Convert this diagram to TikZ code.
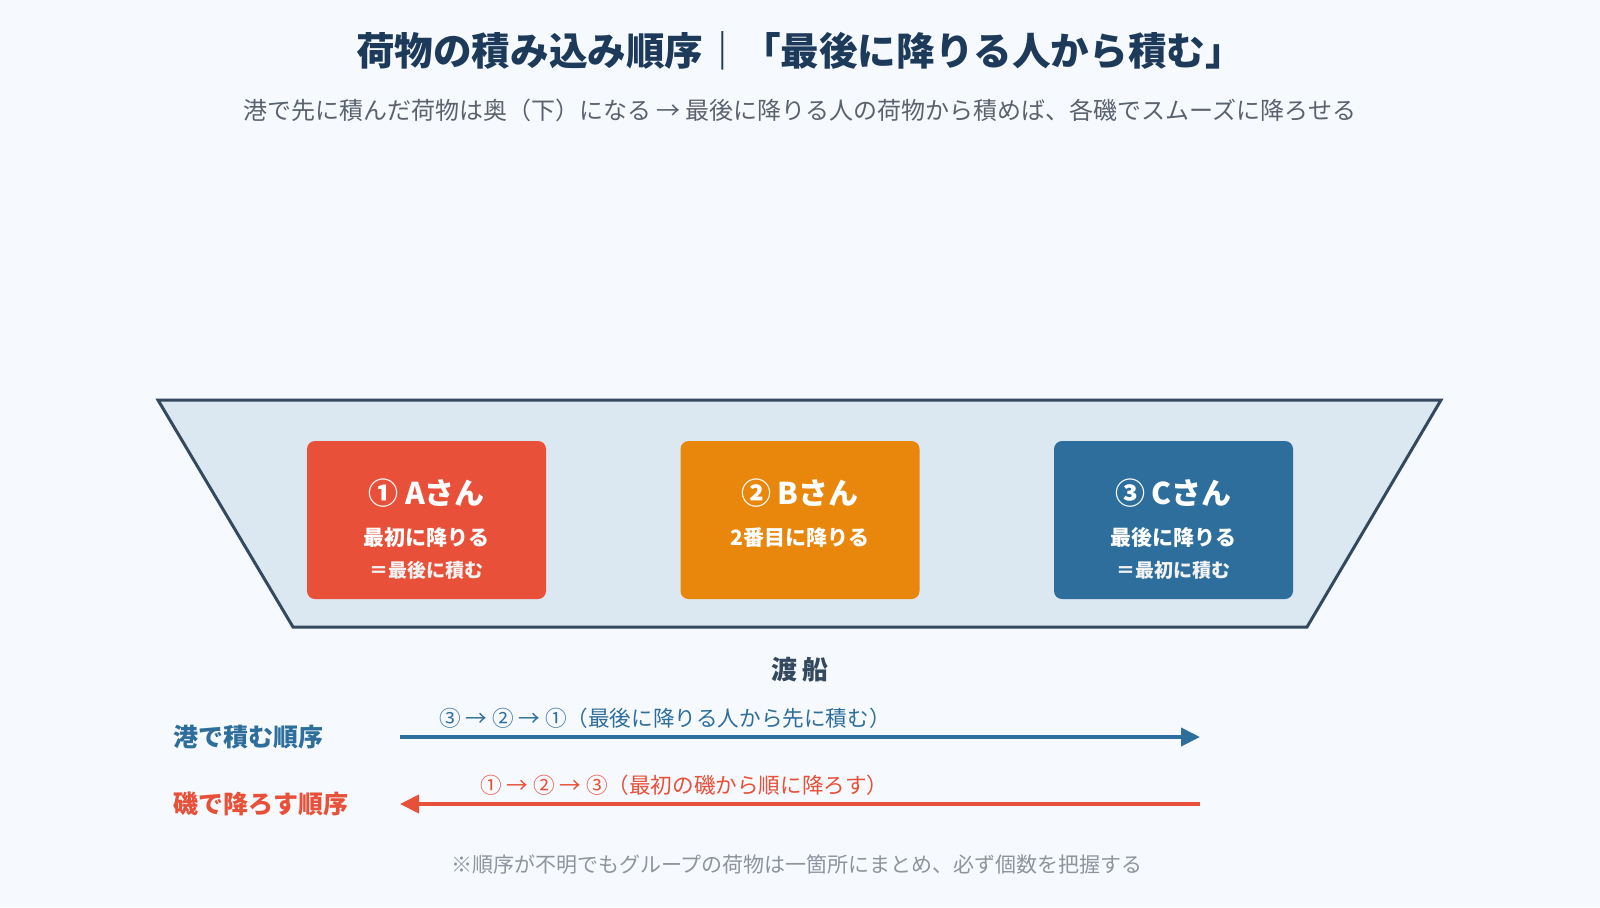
\documentclass[tikz,border=0pt]{standalone}
\usepackage{fontspec}
\setmainfont{Noto Sans CJK JP}
\usepackage{tikz}
\usetikzlibrary{arrows.meta,positioning}
\definecolor{bgcol}{HTML}{F6F9FD}
\definecolor{navy}{HTML}{1E3A5A}
\definecolor{subgray}{HTML}{5A6270}
\definecolor{hullfill}{HTML}{DCE8F1}
\definecolor{hullline}{HTML}{34495E}
\definecolor{redA}{HTML}{E8503A}
\definecolor{orangeB}{HTML}{E8870C}
\definecolor{blueC}{HTML}{2E6E9C}
\definecolor{notegray}{HTML}{8E939E}
\tikzset{
    person/.style={rectangle, rounded corners=4pt, minimum width=119.5pt, minimum height=79pt, inner sep=0pt},
    pname/.style={text=white, font=\fontsize{15}{18}\selectfont\bfseries, inner sep=0pt},
    pnote/.style={text=white, font=\fontsize{10.5}{13}\selectfont\bfseries, inner sep=0pt},
    pnote2/.style={text=white!90!gray, font=\fontsize{9.5}{12}\selectfont\bfseries, inner sep=0pt},
    rowlabel/.style={anchor=west, font=\fontsize{12.5}{15}\selectfont\bfseries, inner sep=0pt},
    arrowlabel/.style={anchor=west, font=\fontsize{10.8}{13}\selectfont, inner sep=0pt},
    orderarrow/.style={line width=2pt, -{Triangle[length=9.5pt,width=9pt]}}
}
\begin{document}
\begin{tikzpicture}[x=0.5pt, y=-0.5pt]
    \fill[bgcol] (0,0) rectangle (1600,907);
    \useasboundingbox (0,0) rectangle (1600,907);

    % Heading
    \node[text=navy, font=\fontsize{19.3}{23}\selectfont\bfseries] (title) at (800,51)
        {荷物の積み込み順序｜「最後に降りる人から積む」};
    \node[text=subgray, font=\fontsize{12}{15}\selectfont] (subtitle) at (800,110)
        {港で先に積んだ荷物は奥（下）になる → 最後に降りる人の荷物から積めば、各磯でスムーズに降ろせる};

    % Ferry
    \draw[fill=hullfill, draw=hullline, line width=1.5pt, line join=miter]
        (158,400) -- (1441,400) -- (1307,627) -- (293,627) -- cycle;
    \node[text=hullline, font=\fontsize{13}{16}\selectfont\bfseries] (ferry) at (800,670) {渡\ 船};

    % Nodes
    \node[person, fill=redA] (boxA) at (426.5,520) {};
    \node[person, fill=orangeB] (boxB) at (800,520) {};
    \node[person, fill=blueC] (boxC) at (1173.5,520) {};

    \node[pname] (nameA) at ([yshift=13.5pt]boxA.center) {① Aさん};
    \node[pnote] (noteA) at ([yshift=-9pt]boxA.center) {最初に降りる};
    \node[pnote2] (extraA) at ([yshift=-25pt]boxA.center) {＝最後に積む};

    \node[pname] (nameB) at ([yshift=13.5pt]boxB.center) {② Bさん};
    \node[pnote] (noteB) at ([yshift=-9pt]boxB.center) {2番目に降りる};

    \node[pname] (nameC) at ([yshift=13.5pt]boxC.center) {③ Cさん};
    \node[pnote] (noteC) at ([yshift=-9pt]boxC.center) {最後に降りる};
    \node[pnote2] (extraC) at ([yshift=-25pt]boxC.center) {＝最初に積む};

    % Order rows
    \node[rowlabel, text=blueC] (loadrow) at (173,737) {港で積む順序};
    \node[rowlabel, text=redA] (unloadrow) at (173,804) {磯で降ろす順序};

    \coordinate (loadS) at (400,737);
    \coordinate (loadE) at (1200,737);
    \coordinate (unloadS) at (1200,804);
    \coordinate (unloadE) at (400,804);

    % edges
    \draw[orderarrow, blueC] (loadS) -- (loadE);
    \draw[orderarrow, redA] (unloadS) -- (unloadE);
    \node[arrowlabel, text=blueC] (loadtxt) at (439,718) {③\ → ②\ → ①（最後に降りる人から先に積む）};
    \node[arrowlabel, text=redA] (unloadtxt) at (480,785) {①\ → ②\ → ③（最初の磯から順に降ろす）};

    % Note
    \node[text=notegray, font=\fontsize{10.5}{13}\selectfont] (footnote) at (797,865)
        {※順序が不明でもグループの荷物は一箇所にまとめ、必ず個数を把握する};
\end{tikzpicture}
\end{document}
